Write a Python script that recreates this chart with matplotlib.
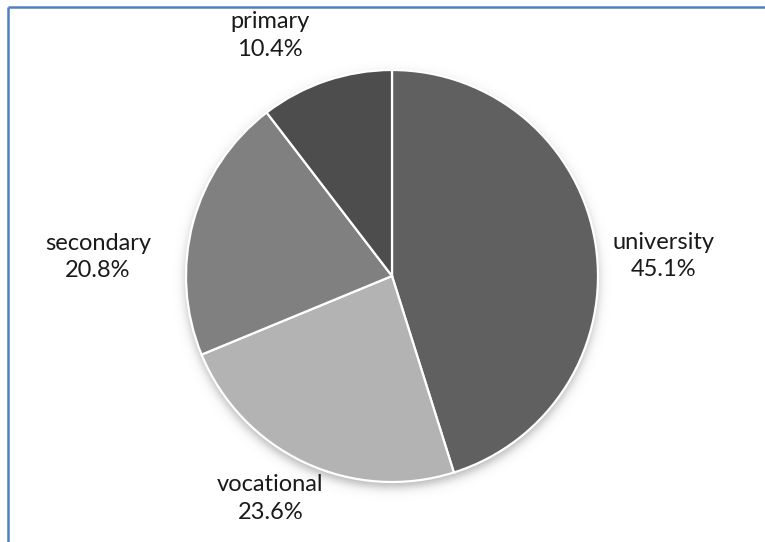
import numpy as np
import matplotlib
matplotlib.use("Agg")
import matplotlib.pyplot as plt
from matplotlib.lines import Line2D

# Share of respondents by education level
categories = ["university", "vocational", "secondary", "primary"]
shares = [45.1, 23.6, 20.8, 10.4]
colors = ["#606060", "#b3b3b3", "#808080", "#4d4d4d"]

# label placement: (angle in degrees, distance in radii) from the pie centre
label_angles = [4.2, -118.7, 176.3, 116.8]
label_dists = [1.32, 1.23, 1.43, 1.31]

W, H = 765, 542
fig = plt.figure(figsize=(W / 100, H / 100), dpi=100)
ax = fig.add_axes([0, 0, 1, 1])

cx, cy, R = 392, H - 276, 206

# soft drop shadow under the pie
yy, xx = np.mgrid[0:H, 0:W] + 0.5
d = np.hypot(xx - cx, yy - (cy - 5))
shadow = 0.5 * (1 - np.tanh((d - R) / 6.0)) * 0.5
rgba = np.zeros((H, W, 4))
rgba[..., :3] = 0.4
rgba[..., 3] = shadow
ax.imshow(rgba, extent=(0, W, 0, H), origin="lower", zorder=0, interpolation="bilinear")

wedges, _ = ax.pie(
    shares,
    colors=colors,
    startangle=90,
    counterclock=False,
    center=(cx, cy),
    radius=R,
    wedgeprops=dict(edgecolor="white", linewidth=1.6),
    frame=True,
)
ax.set_xlim(0, W)
ax.set_ylim(0, H)
ax.set_aspect("equal")
ax.axis("off")

for name, val, ang, dist in zip(categories, shares, label_angles, label_dists):
    a = np.deg2rad(ang)
    x = cx + dist * R * np.cos(a)
    y = cy + dist * R * np.sin(a)
    ax.text(x, y, f"{name}\n{val:.1f}%", ha="center", va="center",
            fontsize=17, family="Lato", color="#1a1a1a", linespacing=1.4)

# blue frame edges (top and left)
frame_kw = dict(color="#4f81bd", linewidth=1.8, solid_capstyle="butt")
ax.add_line(Line2D([8, W], [H - 6.5, H - 6.5], **frame_kw))
ax.add_line(Line2D([8.5, 8.5], [0, H - 6.5], **frame_kw))

fig.savefig("out.png", dpi=100)
